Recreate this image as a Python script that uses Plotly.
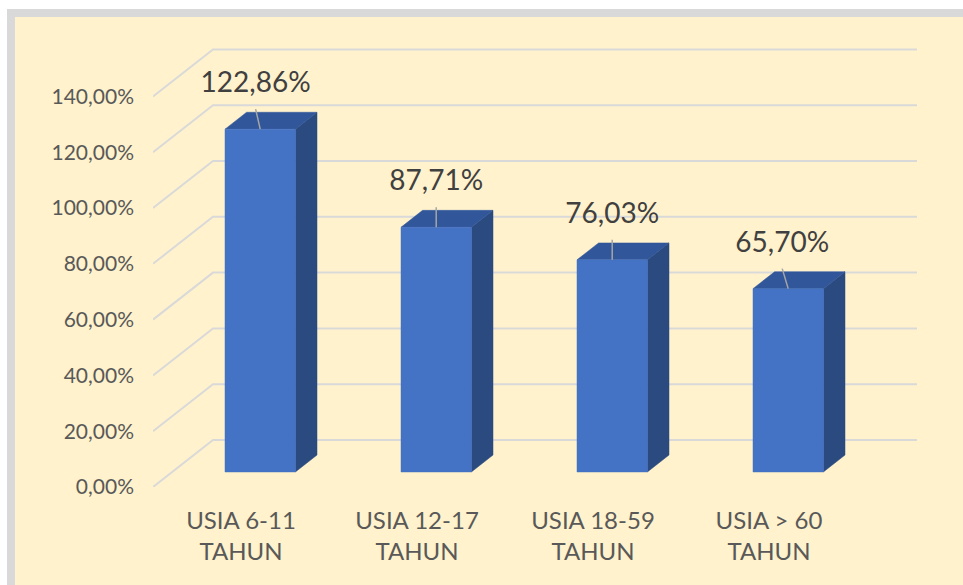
import plotly.graph_objects as go

# --- data ---
categories = ["USIA 6-11<br>TAHUN", "USIA 12-17<br>TAHUN", "USIA 18-59<br>TAHUN", "USIA > 60<br>TAHUN"]
values = [122.86, 87.71, 76.03, 65.70]
tick_values = [0, 20, 40, 60, 80, 100, 120, 140]
tick_labels = [f"{v:.2f}".replace(".", ",") + "%" for v in tick_values]
label_texts = [f"{v:.2f}".replace(".", ",") + "%" for v in values]

# --- layout / projection constants ---
W, H = 963, 585
M_L, M_B = 153, 98
PX_CAT = 176.0          # pixels per category slot
PX_PCT = 2.79           # pixels per percentage point
DEPTH_PX = (60.0, 47.0) # oblique offset of the back wall, in pixels
DX = DEPTH_PX[0] / PX_CAT
DY = DEPTH_PX[1] / PX_PCT
D0, D1 = 0.32, 0.68     # bar depth span (0 = front, 1 = back wall)
HALF_W = 0.2            # half width of a bar in category units
LABEL_NUDGE = [-0.026, 0.0, 0.0, -0.034]
LEADER_GAP = 20 / PX_PCT
LABEL_GAP = 44 / PX_PCT

X_MAX = (W - M_L) / PX_CAT
Y_MAX = (H - M_B) / PX_PCT

FRONT = "#4472C4"
TOP = "#31569A"
SIDE = "#2A4A80"
GRID = "#D9D9D9"
CREAM = "#FFF2CC"


def proj(x, y, d):
    return x + d * DX, y + d * DY


fig = go.Figure()

# perspective gridlines: left wall diagonal + back wall horizontal
gx, gy = [], []
for v in tick_values:
    x0, y0 = proj(0, v, 0)
    x1, y1 = proj(0, v, 1)
    x2, y2 = proj(len(categories), v, 1)
    gx += [x0, x1, x2, None]
    gy += [y0, y1, y2, None]
fig.add_trace(go.Scatter(x=gx, y=gy, mode="lines", line=dict(color=GRID, width=2),
                         hoverinfo="skip", showlegend=False))


def face(pts, color):
    xs = [p[0] for p in pts] + [pts[0][0]]
    ys = [p[1] for p in pts] + [pts[0][1]]
    fig.add_trace(go.Scatter(x=xs, y=ys, mode="lines", fill="toself", fillcolor=color,
                             line=dict(color=color, width=0.5), hoverinfo="skip",
                             showlegend=False))


for i, v in enumerate(values):
    cx = i + 0.5
    xl, xr = cx - HALF_W, cx + HALF_W
    ftl, ftr = proj(xl, v, D0), proj(xr, v, D0)
    fbl, fbr = proj(xl, 0, D0), proj(xr, 0, D0)
    btl, btr = proj(xl, v, D1), proj(xr, v, D1)
    bbr = proj(xr, 0, D1)
    face([ftr, btr, bbr, fbr], SIDE)
    face([ftl, ftr, btr, btl], TOP)
    face([fbl, fbr, ftr, ftl], FRONT)

# data labels with leader lines
lx, ly, tx, ty = [], [], [], []
for i, v in enumerate(values):
    bx, by = proj(i + 0.5, v, D0)
    px = bx + LABEL_NUDGE[i]
    lx += [px, bx, None]
    ly += [by + LEADER_GAP, by, None]
    tx.append(px)
    ty.append(by + LABEL_GAP)
fig.add_trace(go.Scatter(x=lx, y=ly, mode="lines", line=dict(color="#A6A6A6", width=1.5),
                         hoverinfo="skip", showlegend=False))
fig.add_trace(go.Scatter(x=tx, y=ty, mode="text", text=label_texts, textposition="middle center",
                         textfont=dict(family="Lato", size=28, color="#404040"),
                         hoverinfo="skip", showlegend=False))

# chart frame (cream panel with grey border)
def paper_x(px):
    return (px - M_L) / (W - M_L)


def paper_y(py):
    return (H - M_B - py) / (H - M_B)


fig.add_shape(type="rect", xref="paper", yref="paper",
              x0=paper_x(11), x1=paper_x(W + 40), y0=paper_y(13), y1=paper_y(H + 40),
              line=dict(color="#D9D9D9", width=8), fillcolor=CREAM, layer="below")

fig.update_layout(
    width=W, height=H,
    margin=dict(l=M_L, r=0, t=0, b=M_B, autoexpand=False),
    paper_bgcolor="white",
    plot_bgcolor="rgba(0,0,0,0)",
    font=dict(family="Lato", color="#595959"),
    xaxis=dict(range=[0, X_MAX], tickvals=[i + 0.5 for i in range(len(categories))],
               ticktext=categories, showgrid=False, zeroline=False, showline=False,
               ticks="", ticklabelstandoff=17, tickfont=dict(size=24, color="#595959"),
               fixedrange=True),
    yaxis=dict(range=[0, Y_MAX], tickvals=tick_values, ticktext=tick_labels,
               showgrid=False, zeroline=False, showline=False, ticks="",
               ticklabelstandoff=18, tickfont=dict(size=21, color="#595959"),
               fixedrange=True),
)

fig.write_html("out.html")
